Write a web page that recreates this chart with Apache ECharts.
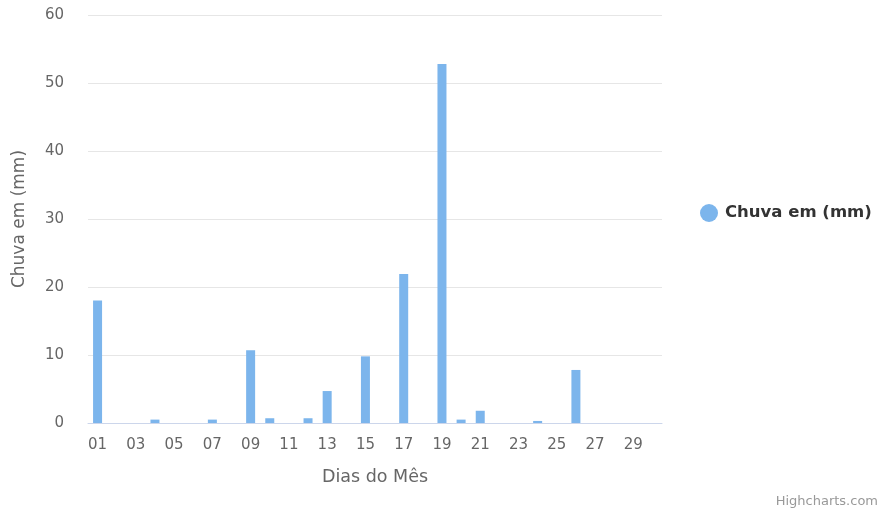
<!DOCTYPE html>
<html><head><meta charset="utf-8">
<script src="https://cdn.jsdelivr.net/npm/echarts@6/dist/echarts.min.js"></script>
<style>html,body{margin:0;padding:0;background:#fff}#c{width:881px;height:511px}</style>
</head><body><div id="c"></div>
<script>
const days = ['01','02','03','04','05','06','07','08','09','10','11','12','13','14','15','16','17','18','19','20','21','22','23','24','25','26','27','28','29','30'];
const rain = [18,0,0,0.5,0,0,0.5,0,10.7,0.7,0,0.7,4.7,0,9.8,0,21.9,0,52.8,0.5,1.8,0,0,0.3,0,7.8,0,0,0,0];
const seriesName = 'Chuva em (mm)';
const yTitle = 'Chuva em (mm)';
const xTitle = 'Dias do Mês';
const credit = 'Highcharts.com';
const font = 'DejaVu Sans';
const chart = echarts.init(document.getElementById('c'));
chart.setOption({
  animation:false,
  textStyle:{fontFamily:font},
  grid:{left:88,right:219,top:15,bottom:88,containLabel:false},
  legend:{orient:'vertical',left:695,top:199,itemWidth:18,itemHeight:18,itemGap:10,icon:'circle',
    data:[seriesName],textStyle:{fontSize:16.5,fontWeight:'bold',color:'#333',fontFamily:font,padding:[0,0,0,2]}},
  graphic:[
    {type:'text',right:3,top:495,style:{text:credit,fill:'#999',fontSize:13,fontFamily:font}},
    {type:'text',x:20,y:219,rotation:Math.PI/2,style:{text:yTitle,fill:'#666',fontSize:17,fontFamily:font,align:'center',verticalAlign:'middle'}}
  ],
  xAxis:{type:'category',data:days,name:xTitle,nameLocation:'middle',nameGap:45,
    nameTextStyle:{fontSize:17.5,color:'#666',fontFamily:font},
    axisLine:{lineStyle:{color:'#ccd6eb'}},axisTick:{show:false},
    axisLabel:{interval:1,fontSize:15,color:'#666',margin:15,fontFamily:font}},
  yAxis:{type:'value',min:0,max:60,interval:10,
    axisLabel:{fontSize:15,color:'#666',margin:24,fontFamily:font},
    splitLine:{lineStyle:{color:'#e6e6e6'}},axisLine:{show:false},axisTick:{show:false}},
  series:[{name:seriesName,type:'bar',data:rain,barWidth:9,itemStyle:{color:'#7cb5ec'}}]
});
</script></body></html>
